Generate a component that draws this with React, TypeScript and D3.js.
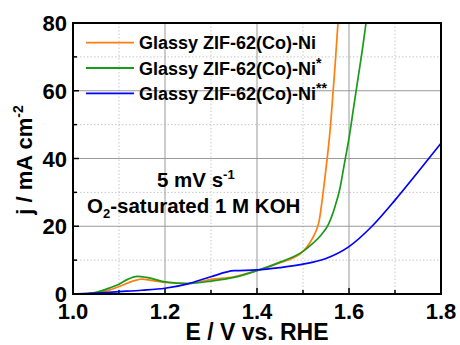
import React from "react";
import * as d3 from "d3";

const orangeE = [1.0, 1.03, 1.05, 1.08, 1.1, 1.13, 1.15, 1.17, 1.2, 1.25, 1.3, 1.35, 1.4, 1.45, 1.5, 1.51, 1.52, 1.53, 1.535, 1.54, 1.55, 1.555, 1.56, 1.565, 1.57, 1.575, 1.58];
const orangeJ = [0, 0.05, 0.3, 1.2, 2.2, 3.8, 4.4, 4.0, 3.4, 3.1, 4.3, 5.1, 6.9, 9.2, 12.6, 14.2, 16.3, 19.2, 21.5, 26, 37, 43, 50, 59, 68, 78, 87];
const greenE = [1.0, 1.02, 1.05, 1.08, 1.1, 1.12, 1.14, 1.16, 1.2, 1.25, 1.3, 1.35, 1.4, 1.45, 1.5, 1.52, 1.54, 1.555, 1.57, 1.58, 1.59, 1.6, 1.61, 1.62, 1.63, 1.637, 1.645];
const greenJ = [-0.3, -0.1, 0.5, 1.8, 2.9, 4.4, 5.2, 4.9, 3.6, 3.1, 3.8, 4.9, 6.9, 9.4, 12.6, 14.8, 17.5, 20.5, 26, 31, 38.5, 46, 55, 64, 73, 80, 88];
const blueE = [1.0, 1.05, 1.1, 1.15, 1.2, 1.25, 1.3, 1.35, 1.4, 1.45, 1.5, 1.55, 1.6, 1.65, 1.7, 1.75, 1.8];
const blueJ = [0, 0.3, 0.7, 1.1, 1.7, 3.0, 5.1, 6.9, 7.1, 7.8, 8.8, 10.5, 14, 20, 27.7, 36, 44.5];

const xTicks = [1.0, 1.2, 1.4, 1.6, 1.8];
const xMinor = [1.1, 1.3, 1.5, 1.7];
const yTicks = [0, 20, 40, 60, 80];
const yMinor = [10, 30, 50, 70];

const series = [
  { name: "Glassy ZIF-62(Co)-Ni", sup: "", E: orangeE, J: orangeJ, color: "#ff7f0e" },
  { name: "Glassy ZIF-62(Co)-Ni", sup: "*", E: greenE, J: greenJ, color: "#1a9a1a" },
  { name: "Glassy ZIF-62(Co)-Ni", sup: "**", E: blueE, J: blueJ, color: "#0000ff" },
];

export default function App() {
  const W = 460, H = 345;
  const L = 73, R = 441, T = 23, B = 294;
  const x = d3.scaleLinear().domain([1.0, 1.8]).range([L, R]);
  const y = d3.scaleLinear().domain([0, 80]).range([B, T]);
  const line = d3.line<[number, number]>().x(d => x(d[0])).y(d => y(d[1])).curve(d3.curveMonotoneX);
  const font = "Liberation Sans, Arial, sans-serif";
  return (
    <svg width={W} height={H} style={{ position: "absolute", left: 0, top: 0, background: "#fff" }} fontFamily={font}>
      <defs>
        <clipPath id="clip"><rect x={L} y={T} width={R - L} height={B - T} /></clipPath>
      </defs>
      {xMinor.map(v => <line key={"xm" + v} x1={x(v)} x2={x(v)} y1={T} y2={B} stroke="#c8c8c8" strokeDasharray="1.5,2" />)}
      {yMinor.map(v => <line key={"ym" + v} x1={L} x2={R} y1={y(v)} y2={y(v)} stroke="#c8c8c8" strokeDasharray="1.5,2" />)}
      {xTicks.slice(1, -1).map(v => <line key={"xg" + v} x1={x(v)} x2={x(v)} y1={T} y2={B} stroke="#999" strokeWidth={1} />)}
      {yTicks.slice(1, -1).map(v => <line key={"yg" + v} x1={L} x2={R} y1={y(v)} y2={y(v)} stroke="#999" strokeWidth={1} />)}
      {xMinor.map(v => <line key={"xt" + v} x1={x(v)} x2={x(v)} y1={B} y2={B - 4} stroke="#000" strokeWidth={1.5} />)}
      {yMinor.map(v => <line key={"yt" + v} x1={L} x2={L + 4} y1={y(v)} y2={y(v)} stroke="#000" strokeWidth={1.5} />)}
      {xTicks.map(v => <line key={"xT" + v} x1={x(v)} x2={x(v)} y1={B} y2={B - 6} stroke="#000" strokeWidth={1.5} />)}
      {yTicks.map(v => <line key={"yT" + v} x1={L} x2={L + 6} y1={y(v)} y2={y(v)} stroke="#000" strokeWidth={1.5} />)}
      <g clipPath="url(#clip)">
        {series.map((s, i) => (
          <path key={i} d={line(s.E.map((e, k) => [e, s.J[k]] as [number, number])) || ""} fill="none" stroke={s.color} strokeWidth={1.7} />
        ))}
      </g>
      <rect x={L} y={T} width={R - L} height={B - T} fill="none" stroke="#000" strokeWidth={2} />
      {xTicks.map(v => (
        <text key={"xl" + v} x={x(v)} y={319} textAnchor="middle" fontSize={22} fontWeight="bold">{v.toFixed(1)}</text>
      ))}
      {yTicks.map(v => (
        <text key={"yl" + v} x={L - 6} y={y(v) + 8} textAnchor="end" fontSize={22} fontWeight="bold">{v}</text>
      ))}
      <text x={(L + R) / 2} y={340} textAnchor="middle" fontSize={23} fontWeight="bold">E / V vs. RHE</text>
      <text transform={`translate(32,160) rotate(-90)`} textAnchor="middle" fontSize={22} fontWeight="bold">
        j / mA cm<tspan dy={-9} fontSize={14}>-2</tspan>
      </text>
      {series.map((s, i) => (
        <g key={"lg" + i}>
          <line x1={86} x2={134} y1={42.7 + i * 25.3} y2={42.7 + i * 25.3} stroke={s.color} strokeWidth={1.8} />
          <text x={139} y={49.3 + i * 25.3} fontSize={18} fontWeight="bold">
            {s.name}
            {s.sup && <tspan dy={-7} fontSize={14}>{s.sup}</tspan>}
          </text>
        </g>
      ))}
      <text x={157} y={187} fontSize={20.5} fontWeight="bold">5 mV s<tspan dy={-8} fontSize={13}>-1</tspan></text>
      <text x={87} y={212.7} fontSize={20.5} fontWeight="bold">
        O<tspan dy={5} fontSize={13}>2</tspan><tspan dy={-5}>-saturated 1 M KOH</tspan>
      </text>
    </svg>
  );
}
